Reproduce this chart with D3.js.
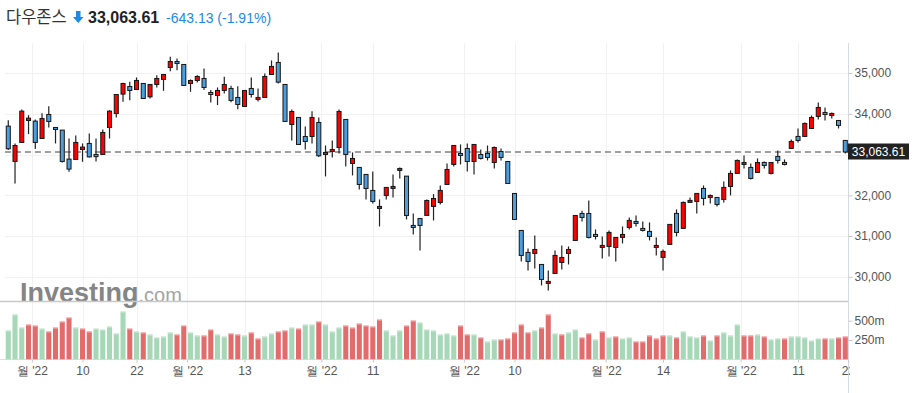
<!DOCTYPE html>
<html lang="ko">
<head>
<meta charset="UTF-8">
<title>다우존스</title>
<script src="https://d3js.org/d3.v7.min.js"></script>
<style>
  body { margin: 0; background: #fff; }
  svg { display: block; font-family: "Liberation Sans", Arial, "Noto Sans CJK KR", sans-serif; }
  .axis text { fill: #555; font-size: 12px; }
  .axis path { stroke: #d6dae1; }
  .axis line { stroke: #c8c8c8; }
</style>
</head>
<body>
<div id="chart"></div>
<script>
// daily candles, Feb 23 - Aug 22 2022
const openVals = [33699,32832,33298,33838,33822,33396,33985,33666,33601,32889,
  32881,33126,33274,33004,33004,33666,34010,34485,34673,34599,
  34746,34419,34722,34845,35139,35286,35213,34746,34820,34869,
  34525,34452,34575,34624,34403,34182,34624,34354,34403,34967,
  35262,34722,33740,33912,33445,33445,33789,33004,33077,33175,
  33863,32783,32685,32513,32120,31678,31997,32169,32611,32471,
  31261,31432,31506,31727,31825,32267,32758,33028,33150,32831,
  33003,33028,32807,33077,32831,32046,31138,30598,30573,30303,
  29837,30082,30352,30573,30892,31555,31555,31040,30720,30745,
  30720,30967,31212,31359,31188,31114,30721,30476,30795,31556,
  31188,31826,31850,32169,31948,31948,31899,32218,32538,32758,
  32685,32562,32807,32538,32955,32807,33151,33446,33446,33642,
  33937,34035,33961,33838,33348];
const highVals = [33846,33274,34108,33969,33863,34018,34190,33666,33601,33396,
  33470,33274,33519,33396,33617,34092,34476,34763,34787,34894,
  34746,34722,34951,34967,35401,35360,35213,34845,34951,35115,
  34583,34648,34910,34689,34681,34575,34894,34624,34992,35311,
  35507,34722,34108,33912,33691,34067,33912,33224,33347,34108,
  33863,33053,32685,32513,32586,31899,32194,32513,32685,32471,
  31555,31432,31899,32030,32242,32782,33224,33249,33273,33249,
  33126,33224,33200,33150,32831,32046,31138,30696,31015,30303,
  30156,30647,30769,30745,31506,31620,31874,31162,30990,31138,
  30966,31236,31457,31507,31359,31335,30967,30672,31286,31654,
  31850,31948,32047,32243,32022,31948,32341,32611,32881,32979,
  32783,32906,32832,32807,33102,32881,33372,33642,33789,33961,
  34280,34158,34035,33838,33348];
const lowVals = [33110,32292,33298,33503,33135,33396,33666,33274,32807,32578,
  32881,32824,32930,32832,33004,33396,33912,34296,34337,34599,
  34378,34378,34648,34566,35049,35074,34697,34542,34771,34583,
  34280,34215,34501,34288,34116,34182,34403,34304,34403,34967,
  34746,33814,33347,33249,33126,33274,32938,32464,32930,33028,
  32709,32488,32144,31899,31801,31236,31899,31948,32414,31408,
  31040,30647,31506,31383,31776,32267,32709,32758,32586,32512,
  32880,32856,32660,32856,32291,31408,30377,30156,30205,29788,
  29665,30082,30180,30303,30892,31359,30941,30917,30450,30500,
  30377,30819,31163,31237,31114,30893,30525,30156,30795,30991,
  31188,31826,31556,31752,31801,31727,31826,31997,32538,32660,
  32390,32562,32660,32513,32783,32734,33151,33298,33446,33642,
  33863,33838,33888,33642,33028];
const closeVals = [33143,33224,34067,33895,33298,33887,33814,33617,32832,32644,
  33298,33184,32944,32950,33544,34067,34476,34746,34575,34820,
  34378,34722,34869,34967,35286,35237,34697,34820,34918,34648,
  34476,34575,34722,34329,34231,34575,34476,34403,34918,35164,
  34779,33814,34059,33249,33323,33912,32971,33053,33126,34059,
  33004,32905,32267,32169,31850,31727,32194,32218,32660,31506,
  31211,31261,31874,31923,32120,32635,33224,32979,32831,33249,
  32905,32930,33175,32930,32291,31408,30524,30377,30671,29935,
  29886,30524,30475,30671,31506,31457,30966,30990,30770,31089,
  30966,31040,31384,31310,31138,30991,30770,30623,31286,31089,
  31826,31875,32047,31924,31997,31776,32194,32538,32857,32807,
  32415,32807,32734,32807,32857,32758,33323,33348,33765,33912,
  34158,33986,34010,33716,33064];
// volume, millions
const volumeVals = [372,579,410,449,436,397,359,410,488,540,
  410,397,359,397,384,423,333,618,397,359,
  346,320,281,294,346,320,436,346,307,307,
  384,320,294,333,320,307,346,268,294,333,
  359,372,410,397,449,449,488,449,359,410,
  436,410,462,436,423,514,372,307,372,436,
  501,475,384,372,320,333,307,436,320,320,
  281,229,255,255,268,346,449,346,372,410,
  579,333,320,346,384,281,333,255,359,281,
  294,268,281,229,229,307,268,307,307,281,
  359,294,281,307,242,307,346,307,449,307,
  307,320,294,255,268,268,294,294,281,242,
  268,268,268,281,294];

const priceTicks = [30000, 31000, 32000, 33000, 34000, 35000];
const volumeTicks = [250, 500];
const dateTickIndex = [3.5, 11, 19, 26.5, 35, 46.4, 54, 67.5, 75, 88.5, 97, 108.5, 117, 124.4];
const dateTickLabels = ["월 '22", "10", "22", "월 '22", "13", "월 '22", "11", "월 '22", "10", "월 '22", "14", "월 '22", "11", "22"];
const lastPrice = 33063.61;

const width = 914, height = 393;
const plotLeft = 4.9, plotRight = 848.65;
const n = closeVals.length;
const candles = d3.range(n).map(i => ({
  i, o: openVals[i], h: highVals[i], l: lowVals[i], c: closeVals[i], v: volumeVals[i],
  up: i === 0 || closeVals[i] >= closeVals[i - 1]
}));

const svg = d3.select('#chart').append('svg')
  .attr('width', width).attr('height', height);

// scales
const x = d3.scaleLinear().domain([-0.5, n - 0.5]).range([plotLeft, plotRight]);
const step = x(1) - x(0);
const y = d3.scaleLinear().domain([29430, 35740]).range([300, 43]);
const yv = d3.scaleLinear().domain([0, 750]).range([359.3, 301.4]);

svg.append('clipPath').attr('id', 'plotClip')
  .append('rect').attr('x', 0).attr('y', 0).attr('width', 850).attr('height', height);

// grid
svg.append('g').selectAll('line').data(priceTicks).join('line')
  .attr('x1', plotLeft).attr('x2', plotRight)
  .attr('y1', d => Math.round(y(d)) + 0.5).attr('y2', d => Math.round(y(d)) + 0.5)
  .attr('stroke', '#f1f1f1');
svg.append('g').selectAll('line').data(dateTickIndex).join('line')
  .attr('x1', d => Math.round(x(d)) + 0.5).attr('x2', d => Math.round(x(d)) + 0.5)
  .attr('y1', 43).attr('y2', 359)
  .attr('stroke', '#f1f1f1');

// watermark
const wm = svg.append('text').attr('x', 20).attr('y', 302);
wm.append('tspan').text('Investing').attr('font-size', 27).attr('font-weight', 'bold').attr('fill', '#858585');
wm.append('tspan').text('.com').attr('font-size', 20).attr('fill', '#a3a3a3');

// panel lines
svg.append('line').attr('x1', 0).attr('x2', plotRight).attr('y1', 301.5).attr('y2', 301.5)
  .attr('stroke', '#c9c9c9').attr('stroke-width', 1.5);
svg.append('line').attr('x1', 0).attr('x2', plotRight).attr('y1', 359.5).attr('y2', 359.5)
  .attr('stroke', '#dedede');

// volume bars
const vw = step * 0.75;
const vol = svg.append('g');
vol.selectAll('rect.bar').data(candles).join('rect').attr('class', 'bar')
  .attr('x', d => x(d.i) - vw / 2).attr('width', vw)
  .attr('y', d => yv(d.v)).attr('height', d => yv(0) - yv(d.v))
  .attr('fill', d => d.up ? '#a6d7b7' : '#e26c6c');
vol.selectAll('rect.cap').data(candles).join('rect').attr('class', 'cap')
  .attr('x', d => x(d.i) - vw / 2).attr('width', vw)
  .attr('y', d => yv(d.v)).attr('height', 1)
  .attr('fill', d => d.up ? '#cde9d7' : '#f1a9a9');

// last price line
svg.append('line')
  .attr('x1', plotLeft).attr('x2', plotRight)
  .attr('y1', y(lastPrice)).attr('y2', y(lastPrice))
  .attr('stroke', '#a0a0a0').attr('stroke-width', 2).attr('stroke-dasharray', '6,4');

// candles
const bw = step * 0.6;
const cg = svg.append('g').selectAll('g').data(candles).join('g');
cg.append('line')
  .attr('x1', d => x(d.i)).attr('x2', d => x(d.i))
  .attr('y1', d => y(d.h)).attr('y2', d => y(d.l))
  .attr('stroke', '#222').attr('stroke-width', 1.2);
cg.append('rect')
  .attr('x', d => x(d.i) - bw / 2).attr('width', bw)
  .attr('y', d => y(Math.max(d.o, d.c)))
  .attr('height', d => Math.max(1.5, Math.abs(y(d.o) - y(d.c))))
  .attr('fill', d => d.c >= d.o ? '#ff0000' : '#4b9fdf')
  .attr('stroke', '#161616').attr('stroke-width', 1);

// axes (the tick under the last-price box is hidden, as in the original)
svg.append('line').attr('x1', 848.5).attr('x2', 848.5).attr('y1', 43).attr('y2', 393)
  .attr('stroke', '#d6dae1');
svg.append('g').attr('class', 'axis').attr('transform', 'translate(848.5,0)')
  .call(d3.axisRight(y).tickValues(priceTicks.filter(t => Math.abs(y(t) - y(lastPrice)) > 12))
    .tickFormat(d3.format(',')).tickSize(4).tickPadding(2))
  .call(g => g.select('.domain').remove());
svg.append('g').attr('class', 'axis').attr('transform', 'translate(848.5,0)')
  .call(d3.axisRight(yv).tickValues(volumeTicks).tickFormat(d => d + 'm').tickSize(4).tickPadding(2))
  .call(g => g.select('.domain').remove());
svg.append('g').attr('class', 'axis').attr('transform', 'translate(0,359.5)')
  .attr('clip-path', 'url(#plotClip)')
  .call(d3.axisBottom(x).tickValues(dateTickIndex).tickFormat((d, i) => dateTickLabels[i]).tickSize(3).tickPadding(4))
  .call(g => g.select('.domain').remove())
  .call(g => g.selectAll('.tick line').attr('stroke', '#e0e0e0'));

// last price label
svg.append('rect').attr('x', 848).attr('y', y(lastPrice) - 8.5)
  .attr('width', 61).attr('height', 16).attr('fill', '#222');
svg.append('text').attr('x', 878.5).attr('y', y(lastPrice) + 4)
  .attr('text-anchor', 'middle').attr('font-size', 12).attr('fill', '#fff')
  .text(d3.format(',.2f')(lastPrice));

// header
svg.append('text').attr('x', 6).attr('y', 23).attr('font-size', 16.5).attr('fill', '#333')
  .style('font-family', '"Noto Sans CJK KR", sans-serif').text('다우존스');
svg.append('path').attr('d', 'M76,11 h4.5 v6 h3 l-5.25,6 l-5.25,-6 h3 z').attr('fill', '#1c8ae6');
svg.append('text').attr('x', 88).attr('y', 23).attr('font-size', 16).attr('font-weight', 'bold')
  .attr('fill', '#222').text(d3.format(',.2f')(lastPrice));
svg.append('text').attr('x', 166).attr('y', 23).attr('font-size', 14).attr('fill', '#1c8ae6')
  .text('-643.13 (-1.91%)');
</script>
</body>
</html>
